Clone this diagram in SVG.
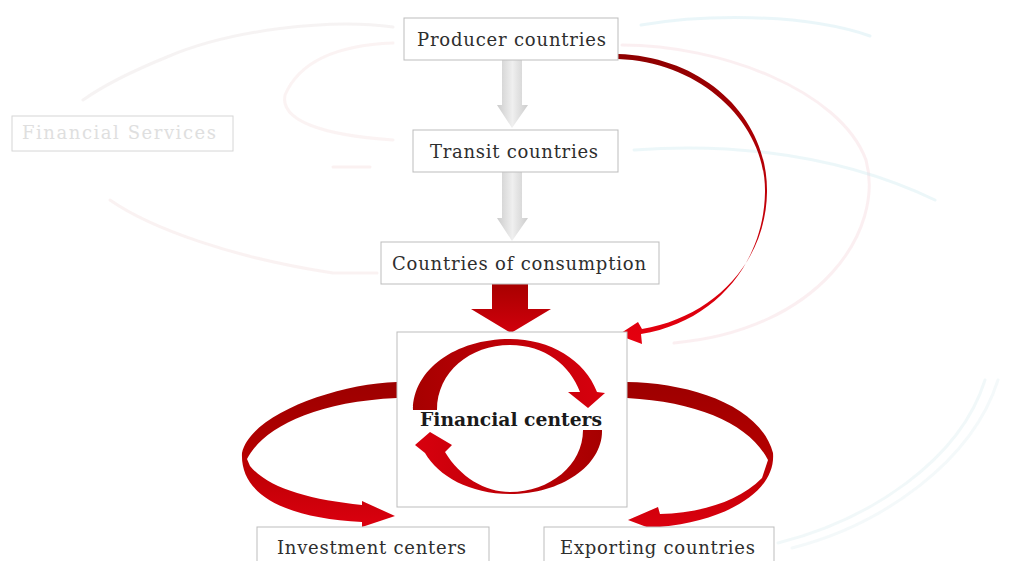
<svg xmlns="http://www.w3.org/2000/svg" width="1017" height="561" viewBox="0 0 1017 561">
  <style>
    .box { fill: #ffffff; stroke: #bdbdbd; stroke-width: 1; }
    .lbl { font-family: "DejaVu Serif", "Liberation Serif", serif; font-size: 18px; fill: #2e2e2e; }
    .bold { font-weight: bold; fill: #1a1a1a; }
    .ghost { fill: none; stroke-width: 3; stroke-linecap: round; opacity: 0.35; }
  </style>
  <defs>
    <linearGradient id="gray" x1="497" y1="0" x2="528" y2="0" gradientUnits="userSpaceOnUse">
      <stop offset="0" stop-color="#cccccc"/>
      <stop offset="0.5" stop-color="#efefef"/>
      <stop offset="1" stop-color="#cccccc"/>
    </linearGradient>
    <linearGradient id="ribbon" x1="0" y1="380" x2="0" y2="532" gradientUnits="userSpaceOnUse">
      <stop offset="0" stop-color="#9c0000"/>
      <stop offset="0.45" stop-color="#b20000"/>
      <stop offset="1" stop-color="#de0010"/>
    </linearGradient>
    <linearGradient id="down" x1="0" y1="284" x2="0" y2="334" gradientUnits="userSpaceOnUse">
      <stop offset="0" stop-color="#a80000"/>
      <stop offset="1" stop-color="#d2000c"/>
    </linearGradient>
    <linearGradient id="curve" x1="0" y1="54" x2="0" y2="344" gradientUnits="userSpaceOnUse">
      <stop offset="0" stop-color="#8e0000"/>
      <stop offset="0.5" stop-color="#c00008"/>
      <stop offset="1" stop-color="#e6000f"/>
    </linearGradient>
    <linearGradient id="upArc" x1="413" y1="0" x2="605" y2="0" gradientUnits="userSpaceOnUse">
      <stop offset="0" stop-color="#a60000"/>
      <stop offset="1" stop-color="#d8000e"/>
    </linearGradient>
    <linearGradient id="lowArc" x1="605" y1="0" x2="413" y2="0" gradientUnits="userSpaceOnUse">
      <stop offset="0" stop-color="#a60000"/>
      <stop offset="1" stop-color="#d8000e"/>
    </linearGradient>
  </defs>

  <rect width="1017" height="561" fill="#ffffff"/>

  <!-- faint background ghost arcs -->
  <g id="ghosts">
    <path class="ghost" stroke="#e6dede" d="M393,27 C330,18 230,30 167,57 C130,72 100,88 83,100"/>
    <path class="ghost" stroke="#f2dada" d="M110,200 C150,228 233,258 333,273 L377,273"/>
    <path class="ghost" stroke="#f4dede" d="M393,43 C340,45 300,60 285,95 C280,120 320,135 393,140"/>
    <path class="ghost" stroke="#f4d8d8" d="M333,167 L370,167"/>
    <path class="ghost" stroke="#c2e6ee" d="M641,25 C700,15 800,12 870,36"/>
    <path class="ghost" stroke="#f4d2d7" d="M622,45 C720,45 840,90 866,160 C885,230 820,330 674,343"/>
    <path class="ghost" stroke="#c8e8ef" d="M634,150 C700,145 820,145 935,200"/>
    <path class="ghost" stroke="#d6ecef" d="M778,543 C870,520 960,460 985,380"/>
    <path class="ghost" stroke="#e0eff1" d="M792,548 C882,525 972,462 998,380"/>
  </g>

  <g id="connectors">
    <!-- gray flow arrows -->
    <path fill="url(#gray)" d="M502,60 L522,60 L522,105 L528,105 L512,128 L497,105 L502,105 Z"/>
    <path fill="url(#gray)" d="M502,172 L522,172 L522,218 L528,218 L512,241 L497,218 L502,218 Z"/>
    <!-- red block arrow into financial centers -->
    <path fill="url(#down)" d="M492,284 L528,284 L528,309 L551,309 L511,333 L471,309 L492,309 Z"/>
    <!-- curved arrow from producer countries to financial centers -->
    <path fill="url(#curve)" d="M618,54 C705,57 768,118 767,192 C766,262 714,317 642,329 L638,322 L618,335 L642,344 L641,334 C716,322 764,262 765,192 C766,124 702,62 618,59 Z"/>
    <!-- left ribbon arrow to investment centers -->
    <path fill="url(#ribbon)" d="M397,382 C335,384 250,415 242,453 C240,495 285,518 362,522 L362,527 L395,516 L362,501 L362,505 C310,500 268,488 250,466 L247,459 C262,430 310,402 397,398 Z"/>
    <!-- right ribbon arrow to exporting countries -->
    <path fill="url(#ribbon)" d="M627,382 C690,383 760,405 773,453 C776,490 730,520 660,527 L660,532 L628,520 L658,507 L660,514 C700,513 738,502 762,478 L768,460 C750,425 700,402 627,398 Z"/>
  </g>

  <g id="node-financial-services" opacity="0.9">
    <rect x="12" y="116" width="221" height="35" fill="#ffffff" stroke="#d2d2d2" stroke-width="1"/>
    <text class="lbl" x="22" y="139" textLength="194" style="fill:#dcdcdc">Financial Services</text>
  </g>

  <g id="node-producer">
    <rect class="box" x="404" y="18" width="214" height="42"/>
    <text class="lbl" x="417" y="46" textLength="189">Producer countries</text>
  </g>

  <g id="node-transit">
    <rect class="box" x="413" y="130" width="205" height="42"/>
    <text class="lbl" x="430" y="158" textLength="168">Transit countries</text>
  </g>

  <g id="node-consumption">
    <rect class="box" x="381" y="242" width="278" height="42"/>
    <text class="lbl" x="392" y="270" textLength="254">Countries of consumption</text>
  </g>

  <g id="node-financial-centers">
    <rect class="box" x="397" y="332" width="230" height="175"/>
    <path fill="url(#upArc)" d="M413,410 C413,370 455,339 510,339 C550,339 585,360 597,392 L605,393 L588,408 L568,392 L580,392 C570,365 545,345 510,345 C470,345 437,372 437,410 Z"/>
    <path fill="url(#lowArc)" d="M602,430 C603,465 562,494 510,494 C470,494 438,476 425,453 L415,445 L430,432 L452,445 L445,452 C460,477 485,492 510,492 C550,492 583,465 583,430 Z"/>
    <text class="lbl bold" x="420" y="426" textLength="182" lengthAdjust="spacingAndGlyphs">Financial centers</text>
  </g>

  <g id="node-investment">
    <rect class="box" x="257" y="527" width="232" height="40"/>
    <text class="lbl" x="277" y="554" textLength="189">Investment centers</text>
  </g>

  <g id="node-exporting">
    <rect class="box" x="544" y="527" width="230" height="40"/>
    <text class="lbl" x="560" y="554" textLength="195">Exporting countries</text>
  </g>
</svg>
